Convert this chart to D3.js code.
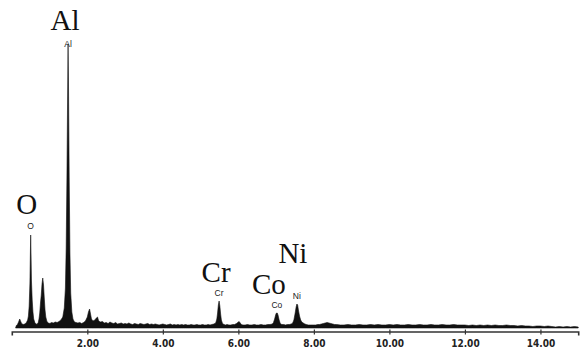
<!DOCTYPE html>
<html>
<head>
<meta charset="utf-8">
<script src="https://cdn.jsdelivr.net/npm/d3@7"></script>
<style>
  html, body { margin: 0; padding: 0; background: #ffffff; }
  svg { display: block; }
</style>
</head>
<body>
<script>
// EDS spectrum: energy (keV) and counts sampled along the trace
const energy = [
  0.10,0.12,0.15,0.18,0.21,0.23,0.26,0.30,0.34,0.38,0.42,
  0.44,0.46,0.48,0.49,0.50,0.51,0.52,0.54,0.56,0.58,0.61,0.64,0.67,0.70,
  0.72,0.74,0.76,0.78,0.80,0.82,0.84,0.86,0.88,0.90,0.93,0.97,1.01,1.05,1.10,1.15,1.20,1.25,1.30,1.35,
  1.39,1.42,1.44,1.46,1.48,1.49,1.50,1.52,1.54,1.56,1.59,1.62,1.66,1.70,1.75,1.80,1.85,1.90,1.95,
  2.00,2.03,2.06,2.08,2.11,2.15,2.20,2.24,2.27,2.30,2.35,2.40,2.45,2.50,2.55,2.60,2.65,2.70,2.75,2.80,2.85,2.90,2.95,
  3.00,3.05,3.10,3.15,3.20,3.25,3.30,3.35,3.40,3.45,3.50,3.55,3.60,3.65,3.70,3.75,3.80,3.85,3.90,3.95,
  4.00,4.05,4.10,4.15,4.20,4.25,4.30,4.35,4.40,4.45,4.50,4.55,4.60,4.65,4.70,4.75,4.80,4.85,4.90,4.95,
  5.00,5.05,5.10,5.15,5.20,5.25,5.30,5.35,
  5.40,5.43,5.45,5.47,5.49,5.51,5.53,5.55,5.58,5.62,5.66,5.70,5.75,5.80,5.85,5.90,5.95,6.00,6.02,6.05,6.08,
  6.12,6.18,6.24,6.30,6.36,6.42,6.48,6.54,6.60,6.66,6.72,6.78,6.84,6.90,
  6.93,6.96,6.99,7.01,7.03,7.05,7.08,7.11,7.15,7.20,7.25,7.30,7.35,7.40,
  7.44,7.47,7.50,7.53,7.55,7.57,7.59,7.62,7.65,7.68,7.72,7.76,7.80,7.85,7.90,7.95,
  8.00,8.05,8.10,8.15,8.20,8.25,8.30,8.35,8.40,8.45,8.50,8.55,
  8.6,8.7,8.8,8.9,9.0,9.1,9.2,9.3,9.4,9.5,9.6,9.7,9.8,9.9,
  10.0,10.1,10.2,10.3,10.4,10.5,10.6,10.7,10.8,10.9,11.0,11.1,11.2,11.3,11.4,11.5,11.6,11.7,11.8,11.9,
  12.0,12.1,12.2,12.3,12.4,12.5,12.6,12.7,12.8,12.9,13.0,13.1,13.2,13.3,13.4,13.5,13.6,13.7,13.8,13.9,
  14.0,14.1,14.2,14.3,14.4,14.5,14.6,14.7,14.8,14.9,15.0
];
const counts = [
  0,25,35,60,90,70,45,35,40,50,80,
  120,220,450,700,930,720,480,280,160,90,55,40,38,55,
  90,150,250,330,440,500,430,300,180,110,65,50,45,55,50,60,55,65,80,110,
  200,400,800,1500,2400,2840,2500,1500,750,350,160,90,60,55,50,55,45,55,70,
  110,160,190,150,90,70,80,100,110,70,60,65,50,55,45,60,50,45,55,40,45,50,40,
  45,40,50,40,35,45,40,35,45,40,35,40,45,35,40,35,40,35,30,35,
  40,35,30,35,40,30,35,30,35,30,35,30,35,30,30,35,30,30,35,30,
  30,35,30,30,35,30,35,40,
  50,90,150,230,270,220,140,80,45,35,30,35,30,30,35,35,45,60,65,50,35,
  30,30,35,30,30,35,30,30,35,30,30,35,35,40,
  55,90,135,150,150,130,80,45,35,35,30,35,35,40,
  50,80,140,210,240,230,180,120,80,60,50,40,35,30,30,30,
  30,30,35,35,40,45,50,55,50,45,40,35,
  35,30,30,35,30,30,35,30,30,35,30,35,30,30,
  35,30,35,30,30,35,30,30,35,30,30,35,30,30,35,30,30,35,30,30,
  30,25,30,25,30,25,30,25,30,25,25,30,25,25,20,25,20,20,15,20,
  20,15,20,15,10,15,10,15,10,15,10
];

// Identified elements and their line energies (keV)
const elements = ["O", "Al", "Cr", "Co", "Ni"];
const lineKeV  = [0.50, 1.49, 5.49, 7.02, 7.55];

// Energy axis ticks (keV)
const tickKeV = [2, 4, 6, 8, 10, 12, 14];

const W = 580, H = 363;
const svg = d3.select("body").append("svg").attr("width", W).attr("height", H);

const x = d3.scaleLinear().domain([0, 15]).range([11.8, 578.2]);
const y = d3.scaleLinear().domain([0, 2850]).range([328, 43]);

const spectrum = energy.map((e, i) => ({ e, c: counts[i] }));

// filled spectrum trace
svg.append("path")
  .datum(spectrum)
  .attr("fill", "#111")
  .attr("stroke", "#111")
  .attr("stroke-width", 0.6)
  .attr("d", d3.area().x(d => x(d.e)).y0(y(0)).y1(d => y(d.c)));

// energy axis
const axis = svg.append("g")
  .attr("transform", "translate(0,331.5)")
  .call(d3.axisBottom(x).tickValues(tickKeV).tickFormat(d3.format(".2f")).tickSizeOuter(0).tickSize(4));
axis.select(".domain").attr("stroke", "#333").attr("stroke-width", 1.6);
axis.selectAll(".tick line").attr("stroke", "#333").attr("stroke-width", 1.2).attr("y1", -2).attr("y2", 3);
axis.selectAll(".tick text")
  .attr("y", 12).attr("dy", "0.35em")
  .attr("fill", "#222")
  .style("font-family", "'Liberation Sans Narrow', 'DejaVu Sans Condensed', 'Liberation Sans', sans-serif")
  .style("font-weight", "bold")
  .style("font-size", "10px");

// peak height near each line energy
const peakTop = k => d3.max(spectrum.filter(d => Math.abs(d.e - k) <= 0.05), d => d.c);

// label layout: [large dx, large dy, small dy] relative to the peak apex
const layout = {
  O:  [-4, -21, -6],
  Al: [-3, -14, 3],
  Cr: [-3, -19, -5],
  Co: [-8, -19, -5],
  Ni: [-4, -41, -5]
};

elements.forEach((el, i) => {
  const px = x(lineKeV[i]);
  const py = y(peakTop(lineKeV[i]));
  const [dx, dyBig, dySmall] = layout[el];
  svg.append("text")
    .attr("x", px).attr("y", py + dySmall)
    .attr("text-anchor", "middle")
    .attr("fill", "#222")
    .style("font-family", "'Liberation Sans', Arial, sans-serif")
    .style("font-size", "8.5px")
    .text(el);
  svg.append("text")
    .attr("x", px + dx).attr("y", py + dyBig)
    .attr("text-anchor", "middle")
    .attr("fill", "#111")
    .style("font-family", "'Liberation Serif', 'Times New Roman', serif")
    .style("font-size", "29px")
    .text(el);
});
</script>
</body>
</html>
